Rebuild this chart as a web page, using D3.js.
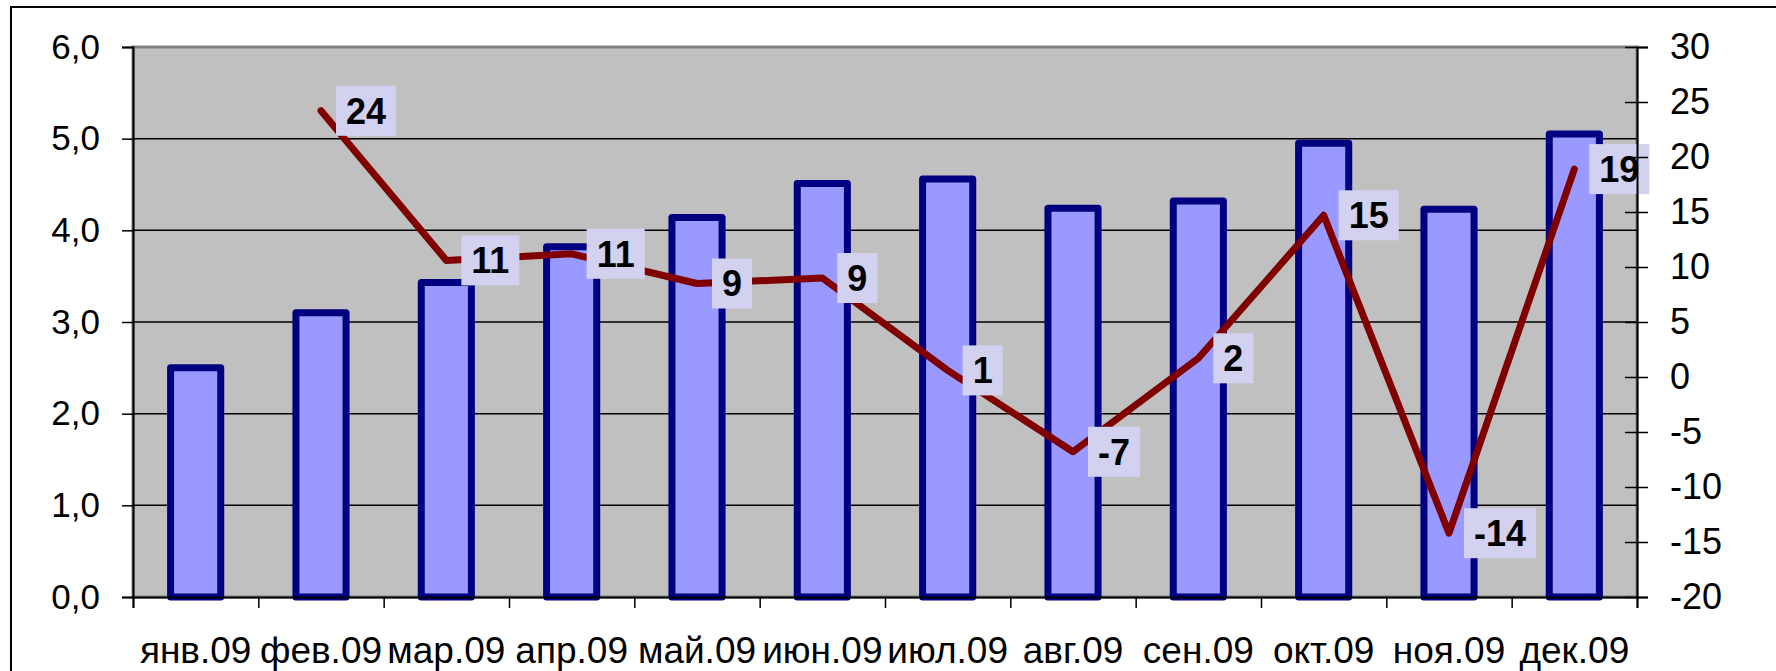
<!DOCTYPE html>
<html>
<head>
<meta charset="utf-8">
<script src="https://cdn.jsdelivr.net/npm/d3@7"></script>
<style>
  body { margin: 0; background: #fff; }
  svg { display: block; }
  text { font-family: Arial, "Liberation Sans", sans-serif; fill: #000; }
</style>
</head>
<body>
<div class="canvas"></div>
<script>
// Data
var months = ['янв.09', 'фев.09', 'мар.09', 'апр.09', 'май.09', 'июн.09', 'июл.09', 'авг.09', 'сен.09', 'окт.09', 'ноя.09', 'дек.09'];
var barValues = [2.5, 3.1, 3.43, 3.82, 4.14, 4.51, 4.56, 4.24, 4.32, 4.95, 4.23, 5.05];
var lineValues = [null, 24.2, 10.6, 11.2, 8.5, 9.0, 0.6, -6.8, 1.7, 14.7, -14.2, 18.9];
var lineLabels = [null, '24', '11', '11', '9', '9', '1', '-7', '2', '15', '-14', '19'];
var leftTicks = [0, 1, 2, 3, 4, 5, 6];
var rightTicks = [-20, -15, -10, -5, 0, 5, 10, 15, 20, 25, 30];

// Config
var width = 1776,
    height = 671,
    plotLeft = 133,
    plotRight = 1637,
    plotTop = 47,
    plotBottom = 597,
    plotColor = '#c0c0c0',
    barFill = '#9999ff',
    barStroke = '#000080',
    lineColor = '#800000',
    labelFill = '#d2d2f0',
    fontFamily = 'Arial, "Liberation Sans", sans-serif';

var locale = d3.formatLocale({decimal: ',', thousands: ' ', grouping: [3], currency: ['', ''], minus: '-'});

var svg = d3.select('.canvas').append('svg')
            .attr('width', width)
            .attr('height', height);

// Outer frame
svg.append('rect')
    .attr('x', 11).attr('y', 7)
    .attr('width', width).attr('height', height)
    .attr('fill', '#fff')
    .attr('stroke', '#000')
    .attr('stroke-width', 2);

var x = d3.scaleBand()
          .domain(months)
          .range([plotLeft, plotRight])
          .paddingInner(0.6)
          .paddingOuter(0.3);

var xEdge = d3.scaleLinear().domain([0, months.length]).range([plotLeft, plotRight]);

var yLeft = d3.scaleLinear().domain([0, 6]).range([plotBottom, plotTop]);
var yRight = d3.scaleLinear().domain([-20, 30]).range([plotBottom, plotTop]);

// Plot area
svg.append('rect')
    .attr('x', plotLeft).attr('y', plotTop)
    .attr('width', plotRight - plotLeft)
    .attr('height', plotBottom - plotTop)
    .attr('fill', plotColor)
    .attr('stroke', '#808080')
    .attr('stroke-width', 3);

// Gridlines
svg.append('g').selectAll('line')
    .data(leftTicks.slice(1, -1))
    .enter()
    .append('line')
    .attr('x1', plotLeft).attr('x2', plotRight)
    .attr('y1', function (d) {return yLeft(d)})
    .attr('y2', function (d) {return yLeft(d)})
    .attr('stroke', '#000')
    .attr('stroke-width', 1.5);

// Bars
svg.append('g').selectAll('rect')
    .data(barValues)
    .enter()
    .append('rect')
    .attr('x', function (d, i) {return x(months[i])})
    .attr('y', function (d) {return yLeft(d)})
    .attr('width', x.bandwidth())
    .attr('height', function (d) {return yLeft(0) - yLeft(d)})
    .attr('fill', barFill)
    .attr('stroke', barStroke)
    .attr('stroke-width', 7)
    .attr('stroke-linejoin', 'round');

// Line
var cx = function (i) {return x(months[i]) + x.bandwidth() / 2};
var line = d3.line()
             .defined(function (d) {return d != null})
             .x(function (d, i) {return cx(i)})
             .y(function (d) {return yRight(d)});

svg.append('path')
    .datum(lineValues)
    .attr('d', line)
    .attr('fill', 'none')
    .attr('stroke', lineColor)
    .attr('stroke-width', 7)
    .attr('stroke-linejoin', 'round')
    .attr('stroke-linecap', 'round');

// Data labels
var labels = svg.append('g').selectAll('g')
    .data(lineValues.map(function (d, i) {return {v: d, t: lineLabels[i], i: i}}).filter(function (d) {return d.v != null}))
    .enter()
    .append('g')
    .attr('transform', function (d) {return 'translate(' + (cx(d.i) + 15) + ',' + yRight(d.v) + ')'});

labels.append('rect').attr('fill', labelFill);
labels.append('text')
    .attr('font-size', 36)
    .attr('font-weight', 'bold')
    .attr('dy', '0.36em')
    .text(function (d) {return d.t});

labels.each(function () {
    var g = d3.select(this),
        w = g.select('text').node().getComputedTextLength();
    g.select('rect').attr('x', 0).attr('y', -25).attr('width', w + 20).attr('height', 50);
    g.select('text').attr('x', 10);
});

// Axes
var leftAxis = svg.append('g')
    .attr('transform', 'translate(' + plotLeft + ',0)')
    .call(d3.axisLeft(yLeft).tickValues(leftTicks).tickSize(11).tickPadding(22).tickFormat(locale.format('.1f')));

var rightAxis = svg.append('g')
    .attr('transform', 'translate(' + plotRight + ',0)')
    .call(d3.axisRight(yRight).tickValues(rightTicks).tickSize(11).tickPadding(22).tickFormat(locale.format('d')));
rightAxis.selectAll('.tick line').attr('x1', -12);

var edgeAxis = svg.append('g')
    .attr('transform', 'translate(0,' + plotBottom + ')')
    .call(d3.axisBottom(xEdge).tickValues(d3.range(months.length + 1)).tickSize(11).tickFormat(''));

var catAxis = svg.append('g')
    .attr('transform', 'translate(0,' + plotBottom + ')')
    .call(d3.axisBottom(x).tickSize(0).tickPadding(40));
catAxis.select('.domain').remove();

svg.selectAll('.domain').attr('stroke', '#000').attr('stroke-width', 2);
svg.selectAll('.tick line').attr('stroke', '#000').attr('stroke-width', 1.5);
leftAxis.selectAll('text').attr('font-size', 35).style('font-family', fontFamily);
rightAxis.selectAll('text').attr('font-size', 36).style('font-family', fontFamily);
catAxis.selectAll('text').attr('font-size', 37).style('font-family', fontFamily);
</script>
</body>
</html>
